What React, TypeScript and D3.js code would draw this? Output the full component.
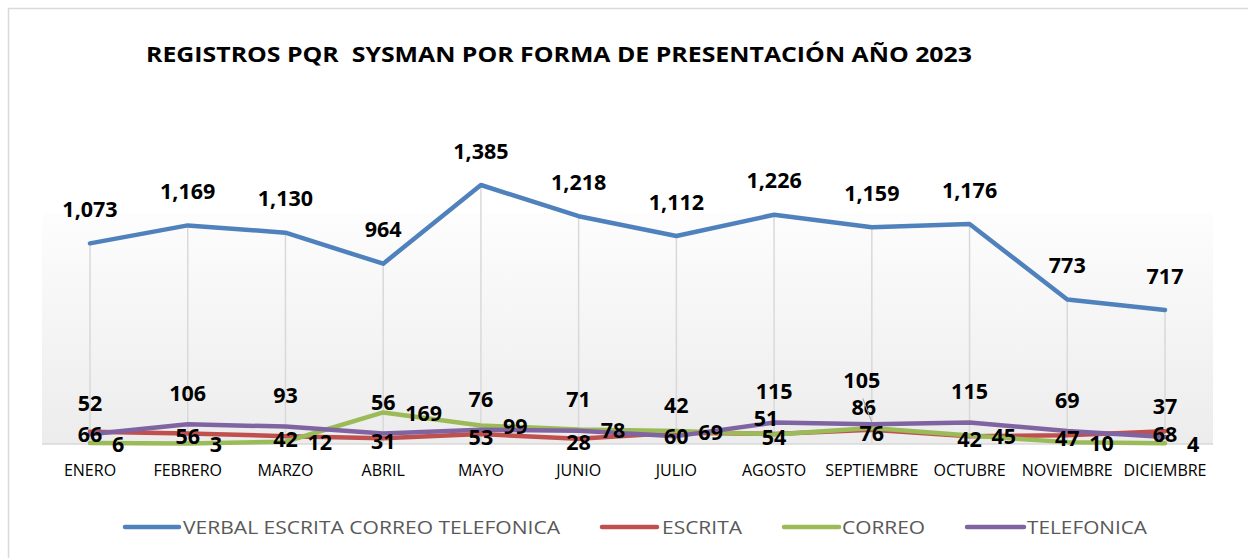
import React from "react";
import * as d3 from "d3";

const months = ["ENERO", "FEBRERO", "MARZO", "ABRIL", "MAYO", "JUNIO", "JULIO", "AGOSTO", "SEPTIEMBRE", "OCTUBRE", "NOVIEMBRE", "DICIEMBRE"];
const verbal = [1073, 1169, 1130, 964, 1385, 1218, 1112, 1226, 1159, 1176, 773, 717];
const escrita = [66, 56, 42, 31, 53, 28, 60, 54, 76, 42, 47, 68];
const correo = [6, 3, 12, 169, 99, 78, 69, 51, 86, 45, 10, 4];
const telefonica = [52, 106, 93, 56, 76, 71, 42, 115, 105, 115, 69, 37];

const seriesNames = ["VERBAL ESCRITA CORREO TELEFONICA", "ESCRITA", "CORREO", "TELEFONICA"];
const colors = ["#4f81bd", "#c0504d", "#9bbb59", "#8064a2"];

const W = 1248;
const H = 558;
const FONT = "'Open Sans', 'DejaVu Sans', sans-serif";

type Pos = { mode: "above" | "center" | "right"; off: number };
const labelPos: Pos[] = [
  { mode: "above", off: -34 },
  { mode: "center", off: 3 },
  { mode: "right", off: 1 },
  { mode: "above", off: -31 },
];
// manual label moves: [seriesIdx, monthIdx, dx, dy, leader]
const moved: [number, number, number, number, boolean][] = [
  [2, 7, -8, -16, false],
  [2, 8, -8, -21, false],
  [3, 8, -10, -44, true],
];

export default function App() {
  const x = d3.scalePoint<string>().domain(months).range([90, 1165]);
  const y = d3.scaleLinear().domain([0, 1600]).range([444, 444 - (1600 * 259) / 1385]);
  const all = [verbal, escrita, correo, telefonica];
  const line = d3
    .line<number>()
    .x((_, i) => x(months[i]) as number)
    .y((d) => y(d));
  const fmt = d3.format(",");

  const legendItems = [
    { x1: 125, x2: 179, tx: 183, w: 377 },
    { x1: 602, x2: 657, tx: 662, w: 80 },
    { x1: 784, x2: 839, tx: 842, w: 83 },
    { x1: 967, x2: 1024, tx: 1027, w: 120 },
  ];

  return (
    <svg width={W} height={H} style={{ position: "absolute", left: 0, top: 0, background: "#fff" }}>
      <defs>
        <linearGradient id="pg" x1="0" y1="0" x2="0" y2="1">
          <stop offset="0" stopColor="#fdfdfd" />
          <stop offset="1" stopColor="#ececec" />
        </linearGradient>
      </defs>
      <rect x={8.5} y={8.5} width={W + 20} height={H + 20} fill="#fff" stroke="#d9d9d9" strokeWidth={1.5} />
      <text x={146} y={62} fontFamily={FONT} fontWeight={700} fontSize={21} fill="#000" textLength={826} lengthAdjust="spacingAndGlyphs" style={{ whiteSpace: "pre" }}>
        {"REGISTROS PQR\u00a0 SYSMAN POR FORMA DE PRESENTACIÓN AÑO 2023"}
      </text>
      <rect x={42} y={213} width={1171} height={y(0) - 213} fill="url(#pg)" />
      {months.map((m, i) => (
        <line key={"dl" + m} x1={x(m)} x2={x(m)} y1={y(verbal[i])} y2={y(0)} stroke="#d9d9d9" strokeWidth={1.5} />
      ))}
      <line x1={42} x2={1213} y1={y(0)} y2={y(0)} stroke="#d9d9d9" strokeWidth={1.5} />
      {all.map((s, si) => (
        <path key={"ln" + si} d={line(s) || ""} fill="none" stroke={colors[si]} strokeWidth={4.5} strokeLinejoin="round" strokeLinecap="round" />
      ))}
      {months.map((m) => (
        <text key={"xl" + m} x={x(m)} y={476} textAnchor="middle" fontFamily={FONT} fontSize={16} fill="#000">
          {m}
        </text>
      ))}
      {all.map((s, si) =>
        s.map((v, i) => {
          const px = x(months[i]) as number;
          const py = y(v);
          const mv = moved.find((d) => d[0] === si && d[1] === i);
          let tx = px;
          let ty = py + labelPos[si].off;
          let anchor = "middle";
          if (mv) {
            tx = px + mv[2];
            ty = py + mv[3];
          } else if (labelPos[si].mode === "right") {
            tx = px + 22;
            anchor = "start";
          }
          return (
            <g key={"lb" + si + "-" + i}>
              {mv && mv[4] ? (
                <line x1={tx + 1} y1={ty + 18} x2={px} y2={py - 2} stroke="#a6a6a6" strokeWidth={1} />
              ) : null}
              <text x={tx} y={ty} dy="0.36em" textAnchor={anchor} fontFamily={FONT} fontWeight={700} fontSize={21.5} fill="#000">
                {fmt(v)}
              </text>
            </g>
          );
        })
      )}
      {legendItems.map((l, i) => (
        <g key={"lg" + i}>
          <line x1={l.x1} x2={l.x2} y1={527} y2={527} stroke={colors[i]} strokeWidth={4.5} strokeLinecap="round" />
          <text x={l.tx} y={527} dy="0.36em" fontFamily={FONT} fontSize={19} fill="#595959" textLength={l.w} lengthAdjust="spacingAndGlyphs">
            {seriesNames[i]}
          </text>
        </g>
      ))}
    </svg>
  );
}
